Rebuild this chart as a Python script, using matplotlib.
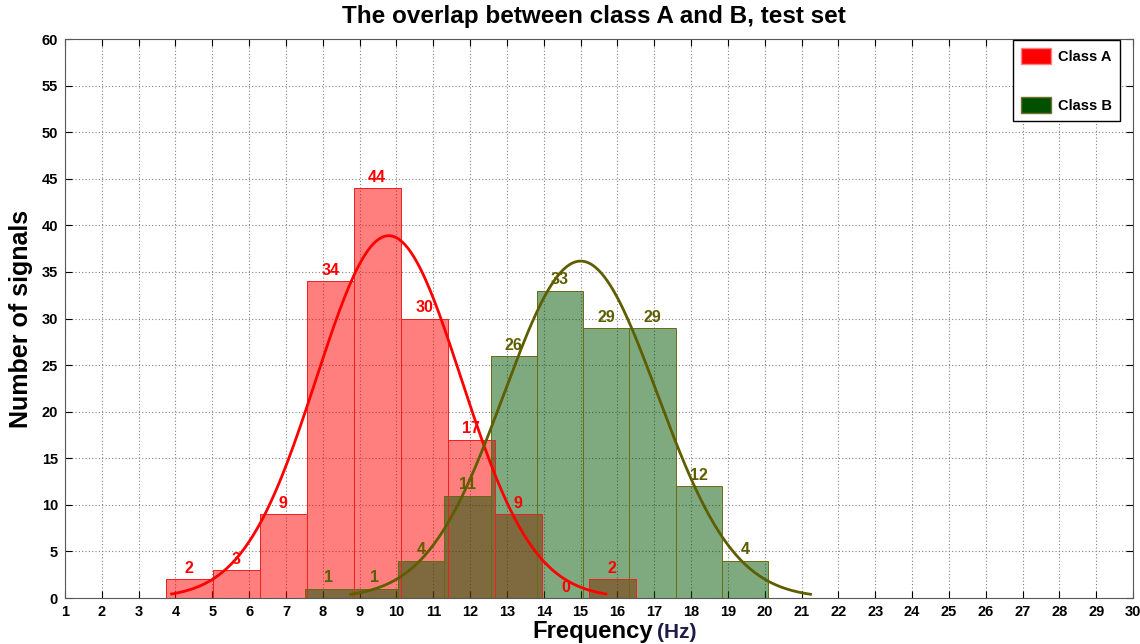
import numpy as np
import matplotlib
matplotlib.use("Agg")
import matplotlib.pyplot as plt
from matplotlib.patches import Patch

plt.rcParams['font.family'] = ['Liberation Sans', 'DejaVu Sans']

# Histogram data
counts_a = [2, 3, 9, 34, 44, 30, 17, 9, 0, 2]
counts_b = [1, 1, 4, 11, 26, 33, 29, 29, 12, 4]
bin_start_a = 3.73
bin_width_a = 1.277
bin_start_b = 7.525
bin_width_b = 1.257

# Fitted normal curves (histfit style: mean +/- 3 sigma)
fit_mean_a = 9.79
fit_std_a = 1.965
fit_mean_b = 15.0
fit_std_b = 2.08

x_ticks = list(range(1, 31))
y_ticks = list(range(0, 61, 5))

red = '#FF0000'
green_face = (0.0, 0.33, 0.0)
olive = '#5E5E00'

fig = plt.figure(figsize=(11.4, 6.44), dpi=100)
ax = fig.add_axes([0.057, 0.0714, 0.937, 0.868])


def bar_centers(start, width, n):
    return start + width * (np.arange(n) + 0.5)


xa = bar_centers(bin_start_a, bin_width_a, len(counts_a))
xb = bar_centers(bin_start_b, bin_width_b, len(counts_b))

# fills
ax.bar(xa, counts_a, width=bin_width_a, color=red, alpha=0.5, linewidth=0, zorder=2)
ax.bar(xb, counts_b, width=bin_width_b, color=green_face, alpha=0.5, linewidth=0, zorder=3)
# outlines on top
ax.bar(xa, counts_a, width=bin_width_a, fill=False, edgecolor='#F02020', linewidth=0.7, zorder=4)
ax.bar(xb, counts_b, width=bin_width_b, fill=False, edgecolor='#6B6B10', linewidth=0.7, zorder=4)


def fit_curve(mean, std, counts, width):
    xs = np.linspace(mean - 3 * std, mean + 3 * std, 300)
    n = sum(counts)
    ys = n * width / (std * np.sqrt(2 * np.pi)) * np.exp(-0.5 * ((xs - mean) / std) ** 2)
    return xs, ys


cx, cy = fit_curve(fit_mean_a, fit_std_a, counts_a, bin_width_a)
ax.plot(cx, cy, color=red, linewidth=2, zorder=5)
cx, cy = fit_curve(fit_mean_b, fit_std_b, counts_b, bin_width_b)
ax.plot(cx, cy, color=olive, linewidth=2, zorder=5)

# count labels
for x, c in zip(xa, counts_a):
    ax.text(x, c + 0.35, str(c), color=red, fontsize=11.5, fontweight='bold',
            ha='center', va='bottom', zorder=6)
for x, c in zip(xb, counts_b):
    ax.text(x, c + 0.35, str(c), color=olive, fontsize=11.5, fontweight='bold',
            ha='center', va='bottom', zorder=6)

ax.set_xlim(1, 30)
ax.set_ylim(0, 60)
ax.set_xticks(x_ticks)
ax.set_yticks(y_ticks)
ax.tick_params(direction='in', length=5, top=True, right=True, labelsize=10.5, pad=5)
for lab in ax.get_xticklabels() + ax.get_yticklabels():
    lab.set_fontweight('bold')
ax.grid(True, color='0.5', linestyle=(0, (1, 2)), linewidth=0.8, zorder=0)
ax.set_axisbelow(True)
for s in ax.spines.values():
    s.set_color('0.35')

fig.text(0.521, 0.975, 'The overlap between class A and B, test set', fontsize=17.5,
         fontweight='bold', ha='center', va='center')
ax.set_ylabel('Number of signals', fontsize=18, fontweight='bold', labelpad=6)
ax.text(0.5506, -0.040, 'Frequency', transform=ax.transAxes, fontsize=17.2,
        fontweight='bold', ha='right', va='top')
ax.text(0.5543, -0.045, '(Hz)', transform=ax.transAxes, fontsize=15,
        fontweight='bold', color='#1C1C48', ha='left', va='top')

handles = [Patch(facecolor=red, edgecolor='#FF8080', label='Class A'),
           Patch(facecolor='#005000', edgecolor='#707030', label='Class B')]
leg = ax.legend(handles=handles, loc='upper right', bbox_to_anchor=(0.988, 0.998),
                borderaxespad=0, fancybox=False, edgecolor='black', framealpha=1,
                labelspacing=2.3, handlelength=2.1, handleheight=1.25,
                borderpad=0.55, handletextpad=0.5,
                prop={'weight': 'bold', 'size': 10.5})
leg.get_frame().set_linewidth(1)

fig.savefig('out.png', dpi=100)
